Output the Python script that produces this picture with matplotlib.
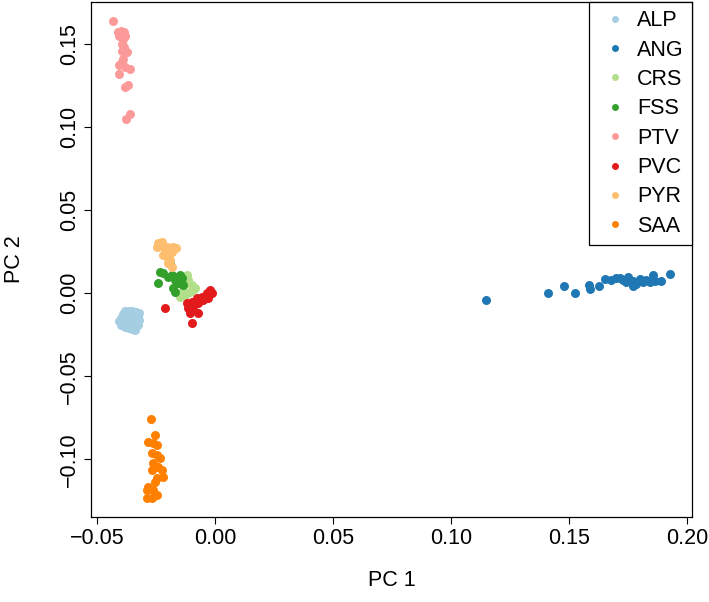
import matplotlib
matplotlib.use("Agg")
import matplotlib.pyplot as plt
from matplotlib.lines import Line2D

plt.rcParams['font.family'] = ['Liberation Sans', 'DejaVu Sans']

groups = ["ALP", "ANG", "CRS", "FSS", "PTV", "PVC", "PYR", "SAA"]
colors = ["#A6CEE3", "#1F78B4", "#B2DF8A", "#33A02C", "#FB9A99", "#E31A1C", "#FDBF6F", "#FF7F00"]

alp_x = [-0.0380, -0.0365, -0.0350, -0.0335, -0.0322, -0.0390, -0.0372, -0.0355, -0.0340, -0.0325,
         -0.0400, -0.0385, -0.0368, -0.0350, -0.0335, -0.0322, -0.0405, -0.0390, -0.0375, -0.0360,
         -0.0345, -0.0330, -0.0400, -0.0385, -0.0368, -0.0350, -0.0335, -0.0325, -0.0380, -0.0365,
         -0.0350, -0.0338]
alp_y = [-0.0110, -0.0108, -0.0110, -0.0112, -0.0120, -0.0125, -0.0122, -0.0125, -0.0128, -0.0135,
         -0.0150, -0.0140, -0.0145, -0.0142, -0.0150, -0.0160, -0.0170, -0.0165, -0.0160, -0.0170,
         -0.0165, -0.0175, -0.0190, -0.0185, -0.0190, -0.0188, -0.0195, -0.0190, -0.0205, -0.0212,
         -0.0215, -0.0222]

ang_x = [0.1145, 0.1410, 0.1479, 0.1524, 0.1583, 0.1589, 0.1626, 0.1650, 0.1678, 0.1699, 0.1713,
         0.1727, 0.1741, 0.1748, 0.1769, 0.1769, 0.1784, 0.1798, 0.1812, 0.1826, 0.1840, 0.1854,
         0.1861, 0.1890, 0.1925]
ang_y = [-0.0042, 0.0002, 0.0044, -0.0002, 0.0048, 0.0022, 0.0042, 0.0084, 0.0078, 0.0094, 0.0090,
         0.0082, 0.0068, 0.0098, 0.0074, 0.0042, 0.0054, 0.0088, 0.0068, 0.0078, 0.0066, 0.0108,
         0.0074, 0.0074, 0.0118]

crs_x = [-0.0118, -0.0114, -0.0097, -0.0093, -0.0106, -0.0127, -0.0148, -0.0085, -0.0135, -0.0125]
crs_y = [0.0108, 0.0078, 0.0048, 0.0018, 0.0006, -0.0012, -0.0024, 0.0030, 0.0018, 0.0060]

fss_x = [-0.0233, -0.0220, -0.0241, -0.0199, -0.0182, -0.0169, -0.0161, -0.0148, -0.0140, -0.0157,
         -0.0178, -0.0169, -0.0135, -0.0190]
fss_y = [0.0126, 0.0120, 0.0060, 0.0096, 0.0108, 0.0078, 0.0096, 0.0108, 0.0090, 0.0060,
         0.0030, 0.0006, 0.0048, 0.0174]

ptv_x = [-0.0431, -0.0410, -0.0400, -0.0393, -0.0385, -0.0405, -0.0390, -0.0380, -0.0395, -0.0385,
         -0.0393, -0.0372, -0.0388, -0.0405, -0.0393, -0.0360, -0.0405, -0.0395, -0.0380, -0.0380,
         -0.0370, -0.0360, -0.0375]
ptv_y = [0.164, 0.157, 0.158, 0.156, 0.157, 0.155, 0.153, 0.155, 0.150, 0.148,
         0.146, 0.145, 0.141, 0.137, 0.138, 0.135, 0.132, 0.139, 0.136, 0.124,
         0.125, 0.108, 0.105]

pvc_x = [-0.0212, -0.0118, -0.0097, -0.0076, -0.0055, -0.0034, -0.0021, -0.0013, -0.0114, -0.0093,
         -0.0072, -0.0051, -0.0030, -0.0106, -0.0072, -0.0097]
pvc_y = [-0.0090, -0.0060, -0.0054, -0.0030, -0.0024, 0.0000, 0.0018, 0.0000, -0.0090, -0.0084,
         -0.0060, -0.0042, -0.0030, -0.0120, -0.0120, -0.0180]

pyr_x = [-0.0241, -0.0224, -0.0245, -0.0203, -0.0212, -0.0178, -0.0165, -0.0220, -0.0203, -0.0182,
         -0.0190, -0.0182, -0.0199, -0.0228]
pyr_y = [0.030, 0.031, 0.028, 0.028, 0.026, 0.028, 0.027, 0.023, 0.022, 0.025,
         0.020, 0.016, 0.018, 0.029]

saa_x = [-0.0272, -0.0254, -0.0282, -0.0261, -0.0247, -0.0268, -0.0247, -0.0233, -0.0261, -0.0240,
         -0.0268, -0.0225, -0.0220, -0.0247, -0.0254, -0.0283, -0.0289, -0.0262, -0.0247, -0.0289,
         -0.0268]
saa_y = [-0.0757, -0.0853, -0.0895, -0.0901, -0.0913, -0.0962, -0.0974, -0.0992, -0.1022, -0.1046,
         -0.1064, -0.1064, -0.1106, -0.1112, -0.1136, -0.1166, -0.1184, -0.1184, -0.1214, -0.1232,
         -0.1232]

xs = [alp_x, ang_x, crs_x, fss_x, ptv_x, pvc_x, pyr_x, saa_x]
ys = [alp_y, ang_y, crs_y, fss_y, ptv_y, pvc_y, pyr_y, saa_y]

x_ticks = [-0.05, 0.00, 0.05, 0.10, 0.15, 0.20]
y_ticks = [-0.10, -0.05, 0.00, 0.05, 0.10, 0.15]

FS = 15.5

fig = plt.figure(figsize=(7.09, 6.02), dpi=100)
ax = fig.add_axes([91/709, 1 - 517/602, (692 - 91)/709, (517 - 1.5)/602])

for gx, gy, c in zip(xs, ys, colors):
    ax.scatter(gx, gy, s=42, color=c, linewidths=0, zorder=3)

# R-style 4% range expansion
allx = [v for g in xs for v in g]
ally = [v for g in ys for v in g]
rx = max(allx) - min(allx)
ry = max(ally) - min(ally)
ax.set_xlim(min(allx) - 0.04 * rx, max(allx) + 0.04 * rx)
ax.set_ylim(min(ally) - 0.04 * ry, max(ally) + 0.04 * ry)

def fmt(v):
    s = f"{abs(v):.2f}"
    return "\u2212" + s if v < 0 else s

ax.set_xticks(x_ticks)
ax.set_xticklabels([fmt(v) for v in x_ticks])
ax.set_yticks(y_ticks)
ax.set_yticklabels([fmt(v) for v in y_ticks], rotation=90, va="center")
ax.tick_params(axis="both", direction="out", length=5, width=0.8, labelsize=FS, pad=3)
for sp in ax.spines.values():
    sp.set_linewidth(0.9)

ax.set_xlabel("PC 1", fontsize=FS)
ax.set_ylabel("PC 2", fontsize=FS)
ax.xaxis.set_label_coords(0.5, -(580 - 517) / (517 - 1.5), transform=ax.transAxes)
ax.xaxis.label.set_va("center")
ax.yaxis.set_label_coords(-(91 - 15) / (692 - 91), 0.5, transform=ax.transAxes)
ax.yaxis.label.set_va("center")

handles = [Line2D([], [], marker="o", linestyle="none", markersize=5, markerfacecolor=c,
                  markeredgewidth=0, color=c) for c in colors]
leg = ax.legend(handles, groups, loc="upper right", bbox_to_anchor=(1.0, 1.0), fontsize=FS,
                frameon=True, fancybox=False, framealpha=1, edgecolor="black",
                borderaxespad=0, labelspacing=0.39, handletextpad=0.2, handlelength=1.6,
                borderpad=0.4)
leg.get_frame().set_linewidth(0.9)

fig.savefig("out.png", dpi=100)
